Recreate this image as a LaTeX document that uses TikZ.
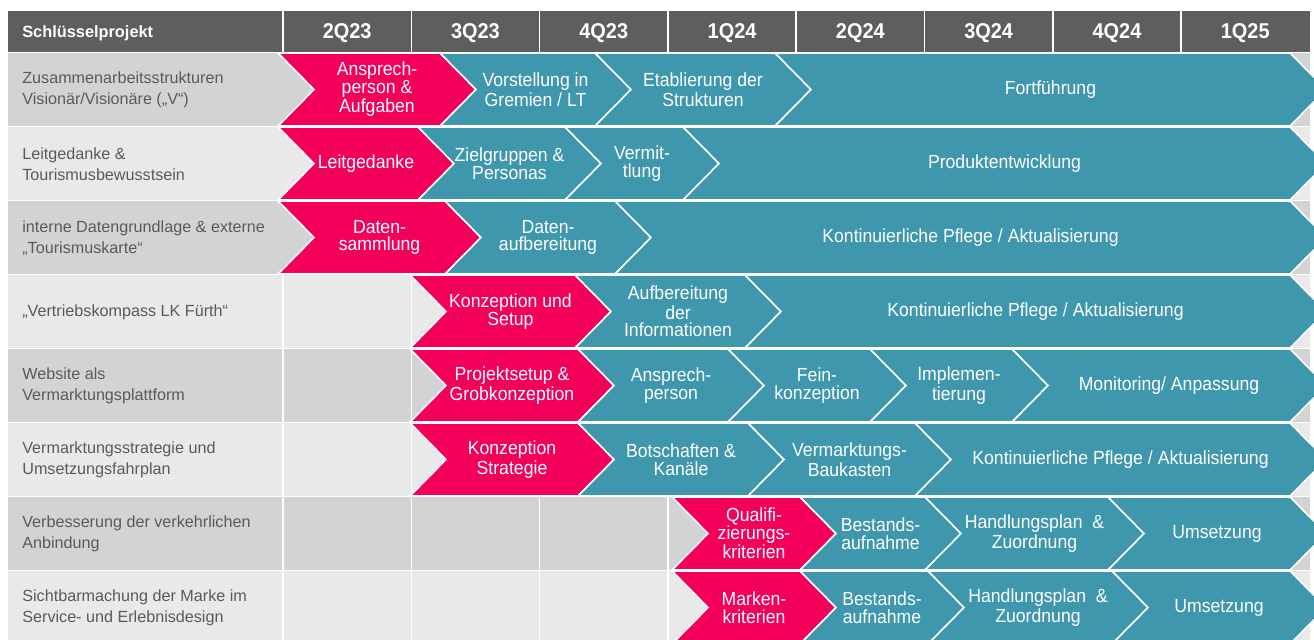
\documentclass[tikz,border=0pt]{standalone}
\usepackage{fontspec}
\setmainfont{Liberation Sans}
\newfontfamily\chevfont{Liberation Sans}[FakeStretch=0.93]

\definecolor{hdgray}{HTML}{5E5E5E}
\definecolor{rowdark}{HTML}{D3D3D3}
\definecolor{rowlight}{HTML}{E9E9E9}
\definecolor{labelgray}{HTML}{5A5A5A}
\definecolor{chevpink}{HTML}{F20059}
\definecolor{chevteal}{HTML}{3E97AC}

% chevron: name, row top, left, right, colour, text
\newcommand{\chev}[6]{%
  \path[fill=#5,draw=white,line width=0.9pt] (#3,#2) -- (#4,#2) -- ++(36,36.5) -- (#4,#2+73)
       -- (#3,#2+73) -- ++(36,-36.5) -- cycle;
  \node[chevtext] (#1) at ({(#3+#4)/2+18},#2+36.5) {#6};}

\begin{document}
\begin{tikzpicture}[x=0.02cm,y=-0.02cm,
  rowlabel/.style={anchor=west,align=left,inner sep=0pt,text=labelgray,font=\fontsize{9.2}{12}\selectfont},
  chevtext/.style={align=center,inner sep=0pt,text=white,font=\chevfont\fontsize{10.8}{10}\selectfont},
  quarter/.style={text=white,font=\chevfont\bfseries\fontsize{12.2}{12}\selectfont},
  sep/.style={white,line width=0.9pt}]
\useasboundingbox (0,0) rectangle (1314,639);
\clip (0,0) rectangle (1314,639);

% header bar
\fill[hdgray] (8,11) rectangle (1310,52);
\node[anchor=west,inner sep=0pt,text=white,font=\bfseries\fontsize{9.3}{11}\selectfont] (hdr) at (22,33) {Schlüsselprojekt};
\foreach \q [count=\i from 0] in {2Q23,3Q23,4Q23,1Q24,2Q24,3Q24,4Q24,1Q25} {
  \draw[sep] (283+128.3*\i,11) -- (283+128.3*\i,52);
  \node[quarter] (q\i) at (347.15+128.3*\i,33.5) {\q};
}

% table rows and cell borders
\foreach \top/\fc in {53/rowdark,127/rowlight,201/rowdark,275/rowlight,349/rowdark,423/rowlight,497/rowdark,571/rowlight} {
  \fill[\fc] (8,\top) rectangle (1310,\top+72.5);
  \foreach \i in {1,...,7} \draw[sep] (283+128.3*\i,\top) -- ++(0,72.5);
}
\foreach \top in {275,349,423,497,571} \draw[sep] (283,\top) -- ++(0,72.5);

\node[rowlabel] (lab1) at (22,90) {Zusammenarbeitsstrukturen\\Visionär/Visionäre („V“)};
\node[rowlabel] (lab2) at (22,164) {Leitgedanke \&\\Tourismusbewusstsein};
\node[rowlabel] (lab3) at (22,238) {interne Datengrundlage \& externe\\„Tourismuskarte“};
\node[rowlabel] (lab4) at (22,312) {„Vertriebskompass LK Fürth“};
\node[rowlabel] (lab5) at (22,386) {Website als\\Vermarktungsplattform};
\node[rowlabel] (lab6) at (22,460) {Vermarktungsstrategie und\\Umsetzungsfahrplan};
\node[rowlabel] (lab7) at (22,534) {Verbesserung der verkehrlichen\\Anbindung};
\node[rowlabel] (lab8) at (22,608) {Sichtbarmachung der Marke im\\Service- und Erlebnisdesign};

% row 1
\chev{a1}{53}{278}{440}{chevpink}{Ansprech-\\person \&\\Aufgaben}
\chev{a2}{53}{440}{595}{chevteal}{Vorstellung in\\Gremien / LT}
\chev{a3}{53}{595}{775}{chevteal}{Etablierung der\\Strukturen}
\chev{a4}{53}{775}{1290}{chevteal}{Fortführung}
% row 2
\chev{b1}{127}{278}{418}{chevpink}{Leitgedanke}
\chev{b2}{127}{418}{565}{chevteal}{Zielgruppen \&\\Personas}
\chev{b3}{127}{565}{683}{chevteal}{Vermit-\\tlung}
\chev{b4}{127}{683}{1290}{chevteal}{Produktentwicklung}
% row 3
\chev{c1}{201}{278}{445}{chevpink}{Daten-\\sammlung}
\chev{c2}{201}{445}{615}{chevteal}{Daten-\\aufbereitung}
\chev{c3}{201}{615}{1290}{chevteal}{Kontinuierliche Pflege / Aktualisierung}
% row 4
\chev{d1}{275}{410}{575}{chevpink}{Konzeption und\\Setup}
\chev{d2}{275}{575}{745}{chevteal}{Aufbereitung\\der\\Informationen}
\chev{d3}{275}{745}{1290}{chevteal}{Kontinuierliche Pflege / Aktualisierung}
% row 5
\chev{e1}{349}{410}{578}{chevpink}{Projektsetup \&\\Grobkonzeption}
\chev{e2}{349}{578}{728}{chevteal}{Ansprech-\\person}
\chev{e3}{349}{728}{870}{chevteal}{Fein-\\konzeption}
\chev{e4}{349}{870}{1012}{chevteal}{Implemen-\\tierung}
\chev{e5}{349}{1012}{1290}{chevteal}{Monitoring/ Anpassung}
% row 6
\chev{f1}{423}{410}{578}{chevpink}{Konzeption\\Strategie}
\chev{f2}{423}{578}{748}{chevteal}{Botschaften \&\\Kanäle}
\chev{f3}{423}{748}{915}{chevteal}{Vermarktungs-\\Baukasten}
\chev{f4}{423}{915}{1290}{chevteal}{Kontinuierliche Pflege / Aktualisierung}
% row 7
\chev{g1}{497}{672}{800}{chevpink}{Qualifi-\\zierungs-\\kriterien}
\chev{g2}{497}{800}{925}{chevteal}{Bestands-\\aufnahme}
\chev{g3}{497}{925}{1108}{chevteal}{Handlungsplan~~\&\\Zuordnung}
\chev{g4}{497}{1108}{1290}{chevteal}{Umsetzung}
% row 8
\chev{h1}{571}{672}{800}{chevpink}{Marken-\\kriterien}
\chev{h2}{571}{800}{928}{chevteal}{Bestands-\\aufnahme}
\chev{h3}{571}{928}{1112}{chevteal}{Handlungsplan~~\&\\Zuordnung}
\chev{h4}{571}{1112}{1290}{chevteal}{Umsetzung}
\end{tikzpicture}
\end{document}
